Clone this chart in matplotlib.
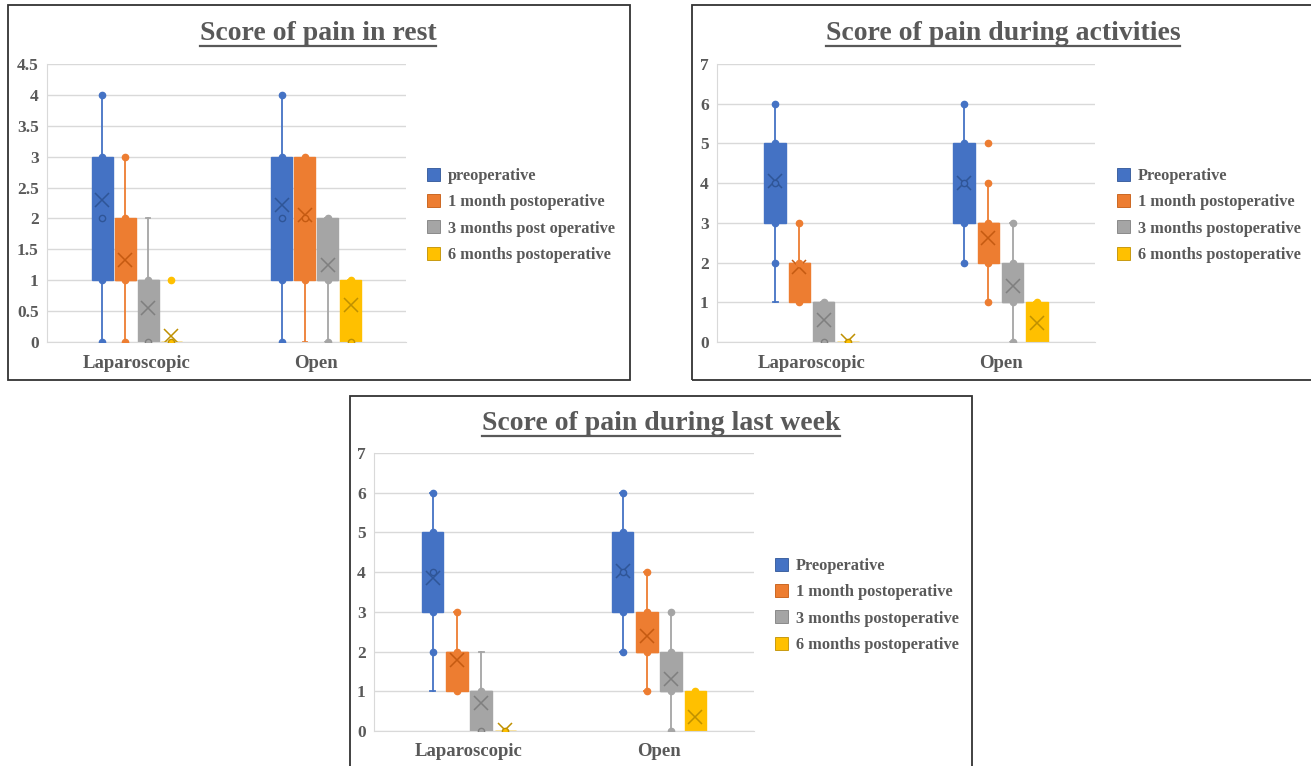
import numpy as np
import matplotlib.pyplot as plt
from matplotlib.patches import Rectangle, Patch
from matplotlib.lines import Line2D

plt.rcParams['font.family'] = ['Liberation Serif', 'DejaVu Serif']
plt.rcParams['font.weight'] = 'bold'

W, H = 1311, 766
TXT = '#595959'

groups = ["Laparoscopic", "Open"]
colors = ["#4472C4", "#ED7D31", "#A5A5A5", "#FFC000"]
darks = ["#2F5597", "#C55A11", "#7F7F7F", "#BF9000"]

rest_title = "Score of pain in rest"
rest_labels = ["preoperative", "1 month postoperative", "3 months post operative", "6 months postoperative"]
# [series][group]
rest_lo = [[0, 0], [0, 0], [0, 0], [0, 0]]
rest_q1 = [[1, 1], [1, 1], [0, 1], [0, 0]]
rest_med = [[2, 2], [1, 2], [1, 1], [0, 0]]
rest_q3 = [[3, 3], [2, 3], [1, 2], [0, 1]]
rest_hi = [[4, 4], [3, 3], [2, 2], [0, 1]]
rest_mean = [[2.3, 2.22], [1.33, 2.05], [0.55, 1.25], [0.1, 0.6]]
rest_pts = [[[0, 1, 2, 3, 4], [0, 1, 2, 3, 4]], [[0, 1, 2, 3], [1, 2, 3]],
            [[0, 1], [0, 1, 2]], [[0, 1], [0, 1]]]

act_title = "Score of pain during activities"
act_labels = ["Preoperative", "1 month postoperative", "3 months postoperative", "6 months postoperative"]
act_lo = [[1, 2], [1, 1], [0, 0], [0, 0]]
act_q1 = [[3, 3], [1, 2], [0, 1], [0, 0]]
act_med = [[4, 4], [2, 3], [1, 1], [0, 0]]
act_q3 = [[5, 5], [2, 3], [1, 2], [0, 1]]
act_hi = [[6, 6], [3, 4], [1, 3], [0, 1]]
act_mean = [[4.05, 4.0], [1.9, 2.62], [0.55, 1.4], [0.02, 0.48]]
act_pts = [[[2, 3, 4, 5, 6], [2, 3, 4, 5, 6]], [[1, 2, 3], [1, 2, 3, 4, 5]],
           [[0, 1], [0, 1, 2, 3]], [[0], [1]]]

week_title = "Score of pain during last week"
week_labels = ["Preoperative", "1 month postoperative", "3 months postoperative", "6 months postoperative"]
week_lo = [[1, 2], [1, 1], [0, 0], [0, 0]]
week_q1 = [[3, 3], [1, 2], [0, 1], [0, 0]]
week_med = [[4, 4], [2, 2], [1, 1], [0, 0]]
week_q3 = [[5, 5], [2, 3], [1, 2], [0, 1]]
week_hi = [[6, 6], [3, 4], [2, 3], [0, 1]]
week_mean = [[3.85, 4.03], [1.78, 2.38], [0.7, 1.3], [0.02, 0.35]]
week_pts = [[[2, 3, 4, 5, 6], [2, 3, 4, 5, 6]], [[1, 2, 3], [1, 2, 3, 4]],
            [[0, 1], [0, 1, 2, 3]], [[0], [1]]]


def px_axes(fig, x0, x1, ybot, ytop):
    return fig.add_axes([x0 / W, 1 - ybot / H, (x1 - x0) / W, (ybot - ytop) / H])


def draw_panel(ax, lo, q1, med, q3, hi, mean, pts, ymax, ystep):
    step, width = 0.128, 0.115
    for s in range(4):
        stats, pos = [], []
        for g in range(2):
            stats.append(dict(whislo=lo[s][g], q1=q1[s][g], med=med[s][g], q3=q3[s][g],
                              whishi=hi[s][g], mean=mean[s][g], fliers=[]))
            pos.append(g + (s - 1.5) * step)
        ax.bxp(stats, positions=pos, widths=width, patch_artist=True, showmeans=True,
               boxprops=dict(facecolor=colors[s], edgecolor=colors[s], lw=1),
               whiskerprops=dict(color=colors[s], lw=1.3),
               capprops=dict(color=colors[s], lw=1.3), capwidths=0.025,
               medianprops=dict(color=colors[s], lw=1),
               meanprops=dict(marker='x', markeredgecolor=darks[s], markersize=10,
                              markeredgewidth=1.1),
               manage_ticks=False)
        for g in range(2):
            for v in pts[s][g]:
                inside = q1[s][g] < v < q3[s][g] or (v == 0 and q1[s][g] == 0)
                ax.plot(pos[g], v, 'o', ms=4.5, mfc=colors[s], mec=darks[s] if inside else colors[s],
                        mew=1, zorder=5)
    ax.set_xlim(-0.5, 1.5)
    ax.set_ylim(0, ymax)
    ax.set_yticks(np.arange(0, ymax + 0.001, ystep))
    ax.set_yticklabels(['{:g}'.format(t) for t in np.arange(0, ymax + 0.001, ystep)])
    ax.set_xticks([0, 1])
    ax.set_xticklabels(groups)
    ax.yaxis.grid(True, color='#D9D9D9', lw=1)
    ax.set_axisbelow(True)
    for sp in ['top', 'right']:
        ax.spines[sp].set_visible(False)
    for sp in ['left', 'bottom']:
        ax.spines[sp].set_color('#D9D9D9')
    ax.tick_params(axis='both', length=0, colors=TXT, labelsize=12.5)
    ax.tick_params(axis='x', pad=9, labelsize=13.5)
    ax.tick_params(axis='y', pad=6)


fig = plt.figure(figsize=(W / 100, H / 100), dpi=100)

# panel frames
for (x0, y0, x1, y1) in [(8, 5, 630, 380), (692, 5, 1320, 380), (350, 396, 972, 780)]:
    fig.add_artist(Rectangle((x0 / W, 1 - y1 / H), (x1 - x0) / W, (y1 - y0) / H,
                             transform=fig.transFigure, fill=False, ec='#333333', lw=1.3))

ax1 = px_axes(fig, 47, 406, 342, 64)
draw_panel(ax1, rest_lo, rest_q1, rest_med, rest_q3, rest_hi, rest_mean, rest_pts, 4.5, 0.5)
ax2 = px_axes(fig, 717, 1095, 342, 64)
draw_panel(ax2, act_lo, act_q1, act_med, act_q3, act_hi, act_mean, act_pts, 7, 1)
ax3 = px_axes(fig, 374, 754, 731, 453)
draw_panel(ax3, week_lo, week_q1, week_med, week_q3, week_hi, week_mean, week_pts, 7, 1)

titles = []
for (txt, cx, cy) in [(rest_title, 318, 34), (act_title, 1003, 34), (week_title, 661, 424)]:
    t = fig.text(cx / W, 1 - cy / H, txt, ha='center', va='center', fontsize=20,
                 color=TXT, fontweight='bold')
    titles.append(t)

for (labels, lx, ly) in [(rest_labels, 420, 161), (act_labels, 1110, 161), (week_labels, 768, 551)]:
    handles = [Patch(facecolor=colors[i], edgecolor=darks[i], lw=0.6) for i in range(4)]
    fig.legend(handles, labels, loc='upper left', bbox_to_anchor=(lx / W, 1 - ly / H),
               frameon=False, fontsize=11.8, labelcolor=TXT, handlelength=0.85,
               handleheight=0.85, handletextpad=0.45, labelspacing=0.62, borderaxespad=0)

# underline titles
fig.canvas.draw()
r = fig.canvas.get_renderer()
for t in titles:
    bb = t.get_window_extent(r).transformed(fig.transFigure.inverted())
    yl = bb.y0 + 1.0 / H
    fig.add_artist(Line2D([bb.x0, bb.x1], [yl, yl], transform=fig.transFigure,
                          color=TXT, lw=1.6))

fig.savefig('out.png', dpi=100)
